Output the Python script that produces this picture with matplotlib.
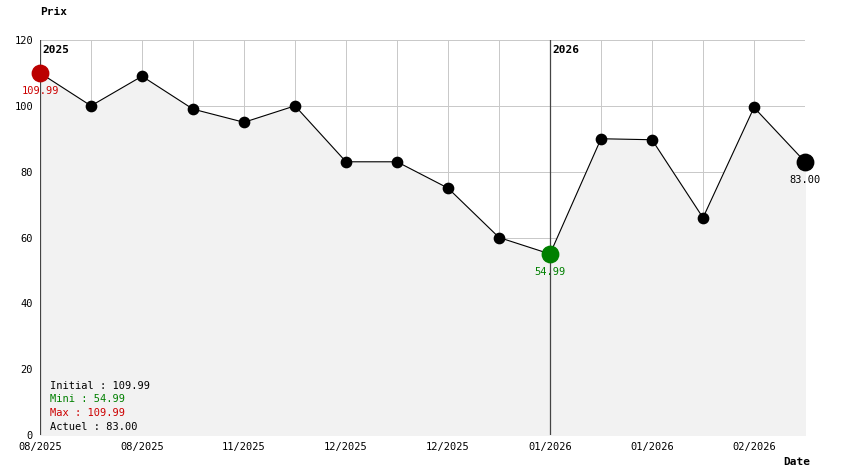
import matplotlib.pyplot as plt
import numpy as np

prices = [109.99, 100, 109, 99, 95, 100, 83, 83, 75, 60, 54.99, 90, 89.7, 66, 99.5, 83]
tick_labels = ["08/2025", "08/2025", "11/2025", "12/2025", "12/2025", "01/2026", "01/2026", "02/2026"]
years = [(0, "2025"), (10, "2026")]
summary = [("Initial : 109.99", "black"), ("Mini : 54.99", "green"),
           ("Max : 109.99", "#cc0000"), ("Actuel : 83.00", "black")]

plt.rcParams['font.family'] = 'DejaVu Sans Mono'
plt.rcParams['font.size'] = 7.5

fig = plt.figure(figsize=(8.44, 4.74), dpi=100)
ax = fig.add_axes([40/844, 39/474, 765/844, 395/474])
x = np.arange(len(prices))

ax.fill_between(x, prices, 0, color='#f2f2f2', zorder=1)
ax.plot(x, prices, color='black', lw=0.8, zorder=3)
ax.scatter(x[1:-1], prices[1:-1], s=55, color='black', zorder=4)

imin = int(np.argmin(prices))
ax.scatter([0], [prices[0]], s=140, color='#bb0000', zorder=5, clip_on=False)
ax.scatter([imin], [prices[imin]], s=140, color='green', zorder=5)
ax.scatter([x[-1]], [prices[-1]], s=140, color='black', zorder=5, clip_on=False)
ax.text(0, prices[0] - 4, f"{prices[0]:.2f}", color='#cc0000', ha='center', va='top')
ax.text(imin, prices[imin] - 4, f"{prices[imin]:.2f}", color='green', ha='center', va='top')
ax.text(x[-1], prices[-1] - 4, f"{prices[-1]:.2f}", color='black', ha='center', va='top')

for xi, yr in years:
    ax.axvline(xi, color='#444444', lw=0.9, zorder=2)
    ax.text(xi + 0.05, 117, yr, fontweight='bold', fontsize=8, va='center', ha='left')

ax.set_xlim(0, len(prices) - 1)
ax.set_ylim(0, 120)
ax.set_xticks(x, minor=True)
ax.set_xticks(x[::2])
ax.set_xticklabels(tick_labels)
ax.set_yticks(range(0, 121, 20))
ax.grid(True, which='both', color='#c8c8c8', lw=0.7, zorder=0)
ax.set_axisbelow(True)
ax.tick_params(length=0, pad=5, which='both')
for s in ax.spines.values():
    s.set_visible(False)

for i, (t, c) in enumerate(summary):
    ax.text(0.2, 15 - i * 4.2, t, color=c, va='center')

fig.text(40/844, 1 - 12/474, "Prix", fontweight='bold', fontsize=8, va='center')
fig.text(783/844, 1 - 462/474, "Date", fontweight='bold', fontsize=8, va='center')

fig.savefig("out.png", dpi=100)
